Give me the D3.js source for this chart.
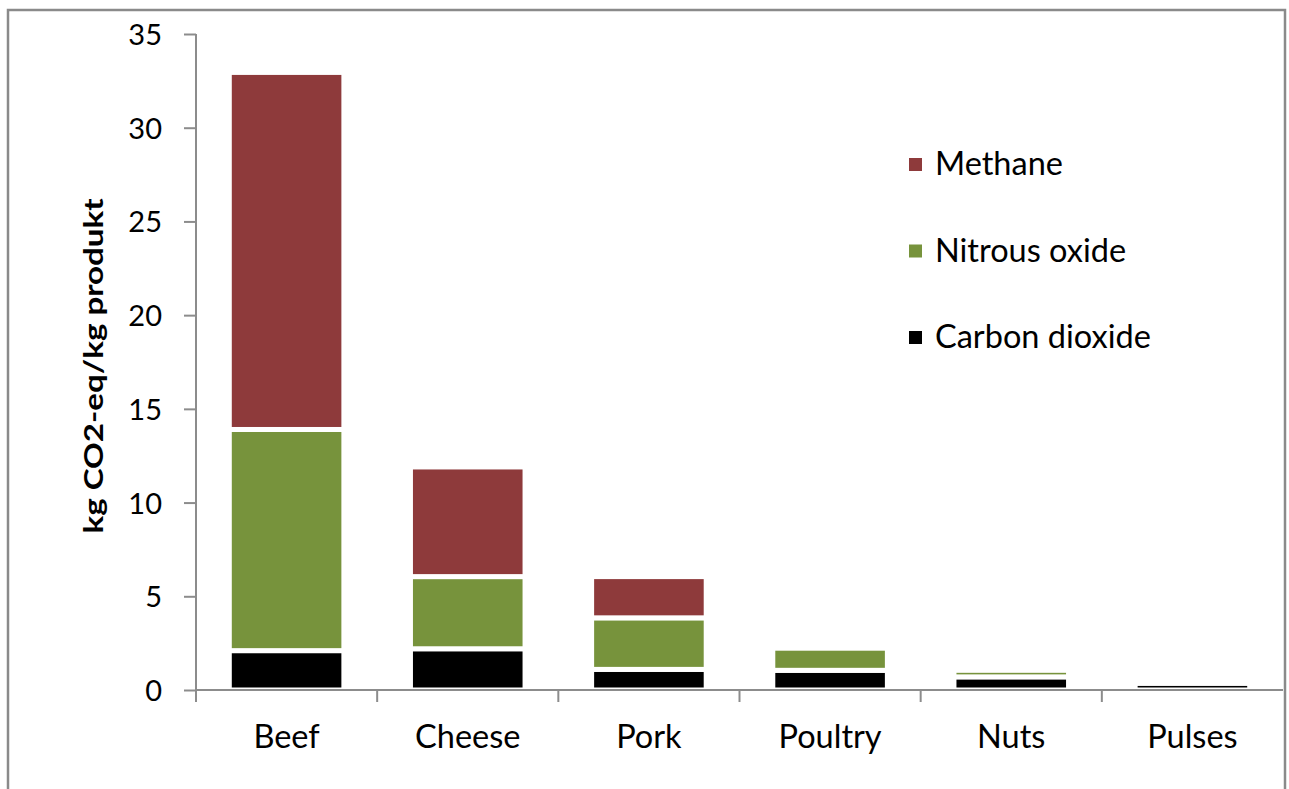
<!DOCTYPE html>
<html>
<head>
<meta charset="utf-8">
<script src="https://cdn.jsdelivr.net/npm/d3@7"></script>
<style>
  html, body { margin: 0; padding: 0; background: #fff; }
  svg { display: block; font-family: Lato, "Open Sans", sans-serif; }
</style>
</head>
<body>
<svg id="chart" width="1289" height="789"></svg>
<script>
const categories = ["Beef", "Cheese", "Pork", "Poultry", "Nuts", "Pulses"];
const carbonDioxide = [2.1, 2.2, 1.1, 1.05, 0.7, 0.35];
const nitrousOxide = [11.8, 3.85, 2.75, 1.18, 0.35, 0];
const methane = [19.05, 5.85, 2.2, 0, 0, 0];
const seriesNames = ["Carbon dioxide", "Nitrous oxide", "Methane"];
const seriesColors = ["#000000", "#77933C", "#8E3A3B"];
const yTicks = [0, 5, 10, 15, 20, 25, 30, 35];
const yTitle = "kg CO2-eq/kg produkt";

(function () {
const svg = d3.select("#chart");
const axisColor = "#8c8c8c";

// frame
svg.append("rect").attr("x", 8).attr("y", 10).attr("width", 1277).attr("height", 800)
  .attr("fill", "none").attr("stroke", "#8a8a8a").attr("stroke-width", 2.5);

const plotL = 196, plotR = 1283, plotT = 34, plotB = 690;
const y = d3.scaleLinear().domain([0, 35]).range([plotB, plotT]);
const x = d3.scaleBand().domain(categories).range([plotL, plotR])
  .paddingInner(0.3675).paddingOuter(0.3675 / 2);

const table = categories.map((c, i) => ({
  cat: c,
  "Carbon dioxide": carbonDioxide[i],
  "Nitrous oxide": nitrousOxide[i],
  "Methane": methane[i]
}));
const stacked = d3.stack().keys(seriesNames)(table);

// bars
stacked.forEach((layer, li) => {
  svg.append("g").selectAll("rect")
    .data(layer.filter(d => d[1] - d[0] > 0))
    .join("rect")
    .attr("x", d => x(d.data.cat))
    .attr("width", x.bandwidth())
    .attr("y", d => y(d[1]))
    .attr("height", d => y(d[0]) - y(d[1]))
    .attr("fill", seriesColors[li])
    .attr("stroke", "#fff")
    .attr("stroke-width", 5);
});

// y axis
const yAxis = d3.axisLeft(y).tickValues(yTicks).tickSize(12).tickSizeOuter(0).tickPadding(22);
const gy = svg.append("g").attr("transform", `translate(${plotL},0)`).call(yAxis);
gy.select(".domain").remove();
gy.selectAll(".tick line").attr("stroke", axisColor).attr("stroke-width", 2);
gy.selectAll(".tick text").attr("font-size", 29).attr("fill", "#000")
  .attr("font-family", "Lato, sans-serif").attr("dy", "0.36em");
svg.append("line").attr("x1", plotL).attr("x2", plotL).attr("y1", plotT).attr("y2", plotB + 12)
  .attr("stroke", axisColor).attr("stroke-width", 2);

// x axis
svg.append("line").attr("x1", plotL).attr("x2", plotR).attr("y1", plotB).attr("y2", plotB)
  .attr("stroke", axisColor).attr("stroke-width", 2);
const boundaries = d3.range(categories.length + 1).map(i => plotL + i * x.step());
svg.append("g").selectAll("line").data(boundaries.slice(1, -1)).join("line")
  .attr("x1", d => d).attr("x2", d => d).attr("y1", plotB).attr("y2", plotB + 12)
  .attr("stroke", axisColor).attr("stroke-width", 2);
svg.append("g").selectAll("text").data(categories).join("text")
  .attr("x", d => x(d) + x.bandwidth() / 2)
  .attr("y", 748)
  .attr("text-anchor", "middle")
  .attr("font-size", 32.5)
  .attr("fill", "#000")
  .text(d => d);

// y title
svg.append("text")
  .attr("transform", `translate(103,366) rotate(-90)`)
  .attr("text-anchor", "middle")
  .attr("font-size", 26)
  .attr("font-weight", "bold")
  .attr("textLength", 335)
  .attr("lengthAdjust", "spacingAndGlyphs")
  .attr("fill", "#000")
  .text(yTitle);

// legend
const legendOrder = ["Methane", "Nitrous oxide", "Carbon dioxide"];
const legendBase = d3.scalePoint().domain(legendOrder).range([175, 348]);
const lg = svg.append("g").selectAll("g").data(legendOrder).join("g");
lg.append("rect")
  .attr("x", 909).attr("y", d => legendBase(d) - 17)
  .attr("width", 13).attr("height", 13)
  .attr("fill", d => seriesColors[seriesNames.indexOf(d)]);
lg.append("text")
  .attr("x", 935).attr("y", d => legendBase(d))
  .attr("font-size", 32.5).attr("fill", "#000")
  .text(d => d);
})();
</script>
</body>
</html>
